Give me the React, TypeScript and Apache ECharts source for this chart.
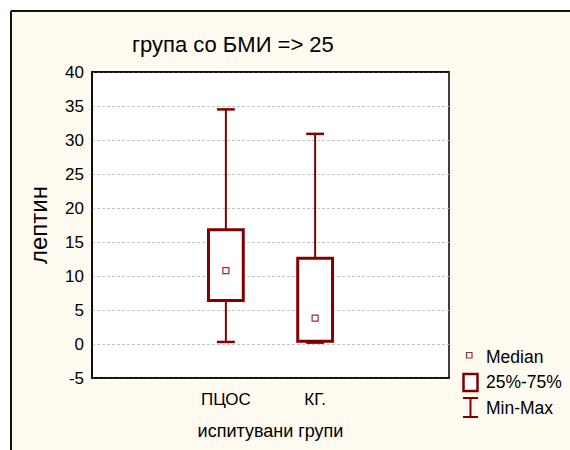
import React, { useEffect, useRef } from "react";
import * as echarts from "echarts";

const categories = ["", "ПЦОС", "КГ.", ""];
// [categoryIndex, min, q1, median, q3, max]
const boxData = [
  [1, 0.3, 6.4, 10.8, 16.8, 34.5],
  [2, 0.2, 0.4, 3.8, 12.6, 30.9],
];
const yTicks = { min: -5, max: 40, interval: 5 };
const titleText = "група со БМИ => 25";
const yName = "лептин";
const xName = "испитувани групи";
const legendLabels = ["Median", "25%-75%", "Min-Max"];

const RED = "#800000";
const FONT = "'Liberation Sans', Arial, sans-serif";

export default function App() {
  const ref = useRef<HTMLDivElement>(null);
  useEffect(() => {
    document.body.style.margin = "0";
    const chart = echarts.init(ref.current!, undefined, { renderer: "svg" });
    const option: any = {
      animation: false,
      backgroundColor: "#fffbf0",
      title: {
        text: titleText,
        left: 132,
        top: 33,
        padding: 0,
        textStyle: { fontFamily: FONT, fontSize: 22, fontWeight: "normal", color: "#000" },
      },
      grid: {
        left: 92,
        top: 72,
        right: 121,
        bottom: 72,
        show: true,
        backgroundColor: "#fff",
        borderColor: "#000",
        borderWidth: 1.5,
      },
      xAxis: [
        {
          type: "category",
          data: categories,
          boundaryGap: true,
          position: "bottom",
          axisLine: { onZero: false, lineStyle: { color: "#000", width: 1.5 } },
          axisTick: { alignWithLabel: true, inside: true, length: 5, interval: 0, lineStyle: { color: "#000", width: 1.5 } },
          axisLabel: { interval: 0, color: "#000", fontFamily: FONT, fontSize: 17, margin: 13 },
          splitLine: { show: false },
          name: xName,
          nameLocation: "middle",
          nameGap: 44,
          nameTextStyle: { color: "#000", fontFamily: FONT, fontSize: 18 },
        },
        {
          type: "category",
          data: categories,
          boundaryGap: true,
          position: "top",
          axisLine: { onZero: false, lineStyle: { color: "#000", width: 1.5 } },
          axisTick: { alignWithLabel: true, inside: true, length: 5, interval: 0, lineStyle: { color: "#000", width: 1.5 } },
          axisLabel: { show: false },
          splitLine: { show: false },
        },
      ],
      yAxis: {
        type: "value",
        min: yTicks.min,
        max: yTicks.max,
        interval: yTicks.interval,
        axisLine: { show: true, onZero: false, lineStyle: { color: "#000", width: 1.5 } },
        axisTick: { show: false },
        axisLabel: { color: "#000", fontFamily: FONT, fontSize: 17, margin: 8 },
        splitLine: { show: true, lineStyle: { color: "#c4c4c4", type: [3, 2], width: 1 } },
        name: yName,
        nameLocation: "middle",
        nameGap: 42,
        nameRotate: 90,
        nameTextStyle: { color: "#000", fontFamily: FONT, fontSize: 24 },
      },
      graphic: [
        { type: "rect", shape: { x: 0, y: 0, width: 570, height: 10 }, style: { fill: "#fff" }, silent: true },
        { type: "rect", shape: { x: 0, y: 0, width: 10, height: 450 }, style: { fill: "#fff" }, silent: true },
        { type: "line", shape: { x1: 11, y1: 11, x2: 570, y2: 11 }, style: { stroke: "#111", lineWidth: 2 } },
        { type: "line", shape: { x1: 11, y1: 11, x2: 11, y2: 450 }, style: { stroke: "#111", lineWidth: 2 } },
        // legend: median
        { type: "rect", shape: { x: 466.5, y: 352.5, width: 5.5, height: 5.5 }, style: { fill: "#fff", stroke: "#a52a2a", lineWidth: 1.2 } },
        { type: "text", style: { text: legendLabels[0], x: 486, y: 357, fill: "#000", font: `17.5px ${FONT}`, verticalAlign: "middle" } },
        // legend: box
        { type: "rect", shape: { x: 463.5, y: 374, width: 14, height: 17 }, style: { fill: "#fff", stroke: RED, lineWidth: 2.5 } },
        { type: "text", style: { text: legendLabels[1], x: 486, y: 382, fill: "#000", font: `17.5px ${FONT}`, verticalAlign: "middle" } },
        // legend: min-max
        { type: "line", shape: { x1: 463, y1: 398, x2: 478, y2: 398 }, style: { stroke: RED, lineWidth: 2 } },
        { type: "line", shape: { x1: 470.5, y1: 398, x2: 470.5, y2: 417 }, style: { stroke: RED, lineWidth: 2 } },
        { type: "line", shape: { x1: 463, y1: 417, x2: 478, y2: 417 }, style: { stroke: RED, lineWidth: 2 } },
        { type: "text", style: { text: legendLabels[2], x: 486, y: 408, fill: "#000", font: `17.5px ${FONT}`, verticalAlign: "middle" } },
      ],
      series: [
        {
          type: "custom",
          xAxisIndex: 0,
          yAxisIndex: 0,
          data: boxData,
          encode: { x: 0, y: [1, 2, 3, 4, 5] },
          renderItem: (params: any, api: any) => {
            const x = api.value(0);
            const lo = api.coord([x, api.value(1)]);
            const q1 = api.coord([x, api.value(2)]);
            const med = api.coord([x, api.value(3)]);
            const q3 = api.coord([x, api.value(4)]);
            const hi = api.coord([x, api.value(5)]);
            const band = api.size([1, 0])[0];
            const bw = band * 0.39;
            const cw = band * 0.2;
            const cx = lo[0];
            const ms = 6;
            return {
              type: "group",
              children: [
                { type: "line", shape: { x1: cx, y1: hi[1], x2: cx, y2: q3[1] }, style: { stroke: RED, lineWidth: 2 } },
                { type: "line", shape: { x1: cx, y1: q1[1], x2: cx, y2: lo[1] }, style: { stroke: RED, lineWidth: 2 } },
                { type: "line", shape: { x1: cx - cw / 2, y1: hi[1], x2: cx + cw / 2, y2: hi[1] }, style: { stroke: RED, lineWidth: 2.5 } },
                { type: "line", shape: { x1: cx - cw / 2, y1: lo[1], x2: cx + cw / 2, y2: lo[1] }, style: { stroke: RED, lineWidth: 2.5 } },
                { type: "rect", shape: { x: cx - bw / 2, y: q3[1], width: bw, height: q1[1] - q3[1] }, style: { fill: "#fff", stroke: RED, lineWidth: 3 } },
                { type: "rect", shape: { x: cx - ms / 2, y: med[1] - ms / 2, width: ms, height: ms }, style: { fill: "#fff", stroke: "#a52a2a", lineWidth: 1.2 } },
              ],
            };
          },
        },
      ],
    };
    chart.setOption(option);
    return () => chart.dispose();
  }, []);
  return <div ref={ref} style={{ position: "absolute", left: 0, top: 0, width: 570, height: 450 }} />;
}
